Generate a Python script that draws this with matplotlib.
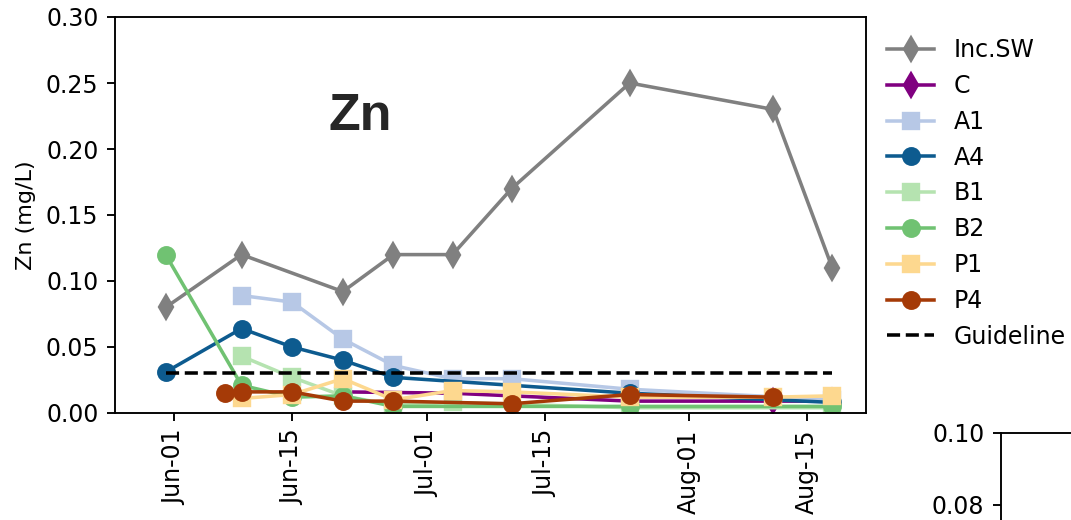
import pandas as pd
import matplotlib
matplotlib.use("Agg")
import matplotlib.pyplot as plt
import matplotlib.dates as mdates
from matplotlib.ticker import FormatStrFormatter

# sampling dates and Zn values (mg/L) per site
inc_sw_dates = ["2019-05-31", "2019-06-09", "2019-06-21", "2019-06-27", "2019-07-04",
                "2019-07-11", "2019-07-25", "2019-08-11", "2019-08-18"]
inc_sw = [0.080, 0.120, 0.092, 0.120, 0.120, 0.170, 0.250, 0.230, 0.110]

c_dates = ["2019-06-21", "2019-07-04", "2019-07-25", "2019-08-11", "2019-08-18"]
c_vals = [0.016, 0.015, 0.009, 0.009, 0.009]

a1_dates = ["2019-06-09", "2019-06-15", "2019-06-21", "2019-06-27", "2019-07-04",
            "2019-07-11", "2019-07-25", "2019-08-18"]
a1_vals = [0.089, 0.084, 0.056, 0.036, 0.026, 0.026, 0.018, 0.010]

a4_dates = ["2019-05-31", "2019-06-09", "2019-06-15", "2019-06-21", "2019-06-27",
            "2019-07-25", "2019-08-18"]
a4_vals = [0.031, 0.064, 0.050, 0.040, 0.027, 0.015, 0.008]

b1_dates = ["2019-06-09", "2019-06-15", "2019-06-21", "2019-06-27", "2019-07-04",
            "2019-07-25", "2019-08-18"]
b1_vals = [0.043, 0.027, 0.013, 0.006, 0.008, 0.004, 0.004]

b2_dates = ["2019-05-31", "2019-06-09", "2019-06-15", "2019-06-21", "2019-06-27",
            "2019-07-25", "2019-08-18"]
b2_vals = [0.120, 0.021, 0.012, 0.013, 0.005, 0.005, 0.005]

p1_dates = ["2019-06-09", "2019-06-15", "2019-06-21", "2019-06-27", "2019-07-04",
            "2019-07-11", "2019-07-25", "2019-08-11", "2019-08-18"]
p1_vals = [0.011, 0.014, 0.026, 0.010, 0.017, 0.016, 0.012, 0.012, 0.013]

p4_dates = ["2019-06-07", "2019-06-09", "2019-06-15", "2019-06-21", "2019-06-27",
            "2019-07-11", "2019-07-25", "2019-08-11"]
p4_vals = [0.015, 0.016, 0.016, 0.009, 0.009, 0.007, 0.014, 0.012]

guideline_dates = ["2019-05-31", "2019-08-18"]
guideline = [0.03, 0.03]

series = [
    ("Inc.SW", inc_sw_dates, inc_sw, "#808080", "d"),
    ("C", c_dates, c_vals, "#800080", "d"),
    ("A1", a1_dates, a1_vals, "#b7c8e6", "s"),
    ("A4", a4_dates, a4_vals, "#0d5b8f", "o"),
    ("B1", b1_dates, b1_vals, "#b5e3b0", "s"),
    ("B2", b2_dates, b2_vals, "#70c272", "o"),
    ("P1", p1_dates, p1_vals, "#fdd88f", "s"),
    ("P4", p4_dates, p4_vals, "#a53a07", "o"),
]

fig = plt.figure(figsize=(1071 / 170, 520 / 170), dpi=170)
ax = fig.add_axes([115 / 1071, 107 / 520, 751 / 1071, 396 / 520])

for name, d, v, col, mk in series:
    ax.plot(pd.to_datetime(d), v, marker=mk, color=col, label=name,
            markersize=7, linewidth=1.5)
ax.plot(pd.to_datetime(guideline_dates), guideline, "k--", linewidth=1.5,
        label="Guideline")

ax.set_ylim(0, 0.30)
ax.set_xlim(pd.Timestamp("2019-05-25"), pd.Timestamp("2019-08-22"))
ax.yaxis.set_major_formatter(FormatStrFormatter("%.2f"))
ax.xaxis.set_major_locator(mdates.DayLocator(bymonthday=[1, 15]))
ax.xaxis.set_major_formatter(mdates.DateFormatter("%b-%d"))
ax.tick_params(axis="x", labelrotation=90, labelsize=10)
ax.tick_params(axis="y", labelsize=10)
ax.set_ylabel("Zn (mg/L)", fontsize=9.5)

ax.text(0.326, 0.75, "Zn", transform=ax.transAxes, ha="center", va="center",
        fontsize=22, fontweight="bold", family="Liberation Sans", color="#262626")

ax.legend(loc="upper left", bbox_to_anchor=(1.0, 1.0), frameon=False, fontsize=10)

# next panel, mostly cut off at the bottom right
ax2 = fig.add_axes([1001 / 1071, (520 - 433 - 360) / 520, 0.2, 360 / 520])
ax2.set_ylim(0, 0.10)
ax2.set_yticks([0.08, 0.10])
ax2.yaxis.set_major_formatter(FormatStrFormatter("%.2f"))
ax2.tick_params(axis="y", labelsize=10)
ax2.set_xticks([])

fig.savefig("out.png", dpi=170)
